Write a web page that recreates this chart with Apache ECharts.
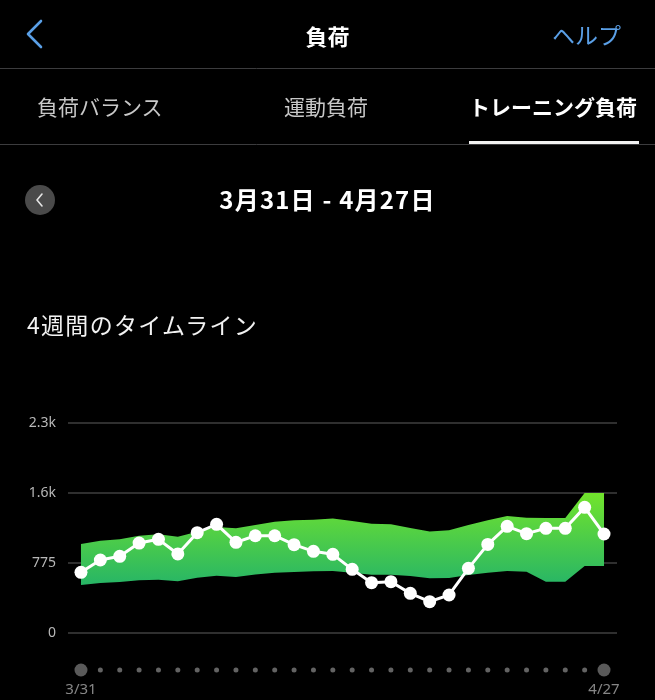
<!DOCTYPE html>
<html>
<head>
<meta charset="utf-8">
<script src="https://cdn.jsdelivr.net/npm/echarts@6/dist/echarts.min.js"></script>
<style>
  html,body{margin:0;padding:0;background:#000;width:655px;height:700px;overflow:hidden;font-family:"Noto Sans CJK JP","Noto Sans",sans-serif;}
  #chart{position:absolute;left:0;top:0;width:655px;height:700px;}
  .abs{position:absolute;white-space:nowrap;}
</style>
</head>
<body>
<div id="chart"></div>
<svg class="abs" style="left:0;top:0" width="655" height="230">
  <polyline points="41,21 28,34 41,47" fill="none" stroke="#5a9fe6" stroke-width="2.6" stroke-linecap="round" stroke-linejoin="round"/>
  <line x1="0" y1="68.5" x2="655" y2="68.5" stroke="#3c3c3e" stroke-width="1"/>
  <line x1="0" y1="144.5" x2="655" y2="144.5" stroke="#3c3c3e" stroke-width="1"/>
  <rect x="469" y="141" width="170" height="3" fill="#f2f2f2"/>
  <circle cx="40" cy="200" r="15" fill="#4a4a4a"/>
  <polyline points="42,194 37,200 42,206" fill="none" stroke="#e6e6e6" stroke-width="1.6" stroke-linecap="round" stroke-linejoin="round"/>
</svg>
<div class="abs" style="left:0;width:655px;top:18px;text-align:center;color:#fff;font-size:22px;font-weight:bold;line-height:34px;">負荷</div>
<div class="abs" style="left:552px;top:17px;color:#5a9fe6;font-size:23px;line-height:34px;">ヘルプ</div>
<div class="abs" style="left:37px;top:91px;color:#c8c8c8;font-size:21px;line-height:30px;">負荷バランス</div>
<div class="abs" style="left:284px;top:91px;color:#c8c8c8;font-size:21px;line-height:30px;">運動負荷</div>
<div class="abs" style="left:469px;top:91px;color:#fff;font-size:21px;font-weight:bold;line-height:30px;">トレーニング負荷</div>
<div class="abs" style="left:0;width:655px;top:183px;text-align:center;color:#fff;font-size:24px;font-weight:bold;line-height:32px;letter-spacing:1.2px;">3月31日 - 4月27日</div>
<div class="abs" style="left:27px;top:308px;color:#f2f2f2;font-size:23px;line-height:32px;letter-spacing:1.3px;">4週間のタイムライン</div>
<script>
const dates = ["3/31","4/1","4/2","4/3","4/4","4/5","4/6","4/7","4/8","4/9","4/10","4/11","4/12","4/13","4/14","4/15","4/16","4/17","4/18","4/19","4/20","4/21","4/22","4/23","4/24","4/25","4/26","4/27"];
const trainingLoad = [672,808,849,996,1037,875,1111,1203,1004,1077,1077,978,904,871,705,557,568,439,347,421,716,981,1181,1100,1159,1159,1391,1096];
const rangeUpper = [985,1022,1037,1077,1092,1066,1122,1173,1159,1196,1232,1247,1255,1269,1240,1210,1203,1162,1125,1137,1196,1247,1295,1277,1273,1273,1550,1550];
const rangeLower = [531,554,565,583,590,572,613,635,620,649,668,675,683,686,668,646,646,631,605,609,642,668,686,679,568,568,742,742];
const yTicks = [0, 775, 1550, 2325];
const yTickLabels = ["0", "775", "1.6k", "2.3k"];

const chart = echarts.init(document.getElementById('chart'), null, {renderer:'canvas'});
const n = dates.length;
const xMin = -0.67, xMax = n - 1 + 0.67;

function renderBand(params, api) {
  if (params.dataIndex !== 0) return null;
  const pts = [];
  for (let i = 0; i < n; i++) pts.push(api.coord([i, rangeUpper[i]]));
  for (let i = n - 1; i >= 0; i--) pts.push(api.coord([i, rangeLower[i]]));
  return {
    type: 'polygon',
    shape: {points: pts},
    style: {
      fill: new echarts.graphic.LinearGradient(0,0,0,1,[
        {offset:0, color:'#72e42c'},
        {offset:1, color:'#27b566'}
      ])
    }
  };
}

chart.setOption({
  backgroundColor: 'transparent',
  animation: false,
  grid: [
    {left: 68, right: 38, top: 423, bottom: 67},
    {left: 68, right: 38, top: 662, height: 16}
  ],
  xAxis: [
    {gridIndex: 0, type: 'value', min: xMin, max: xMax, show: false},
    {gridIndex: 1, type: 'value', min: xMin, max: xMax, show: false}
  ],
  yAxis: [
    {gridIndex: 0, type: 'value', min: yTicks[0], max: yTicks[yTicks.length-1], interval: yTicks[1]-yTicks[0],
     axisLine:{show:false}, axisTick:{show:false},
     splitLine:{lineStyle:{color:'#3f3f3f', width:1.5}},
     axisLabel:{color:'#b8b8b8', fontSize:14, margin:12, fontFamily:'Noto Sans, sans-serif',
       formatter: v => { const i = yTicks.indexOf(v); return i >= 0 ? yTickLabels[i] : ''; }}},
    {gridIndex: 1, type: 'value', min: -1, max: 1, show: false}
  ],
  series: [
    {
      type: 'custom', xAxisIndex: 0, yAxisIndex: 0, z: 1, silent: true,
      data: dates.map((d,i)=>[i, rangeLower[i], rangeUpper[i]]),
      encode: {x: 0, y: [1, 2]},
      renderItem: renderBand
    },
    {
      type: 'line', xAxisIndex: 0, yAxisIndex: 0, z:5,
      data: trainingLoad.map((v,i)=>[i,v]),
      symbol: 'circle', symbolSize: 13,
      lineStyle: {color:'#ffffff', width:3},
      itemStyle: {color:'#ffffff'}
    },
    {
      type: 'scatter', xAxisIndex: 1, yAxisIndex: 1,
      data: dates.map((d,i)=>({value:[i,0], name:d,
        symbolSize: (i===0 || i===n-1) ? 13 : 5,
        itemStyle:{color: (i===0 || i===n-1) ? '#707070' : '#7c7c7c'},
        label:{show: (i===0 || i===n-1)}})),
      label: {position:'bottom', distance: 6, color:'#a8a8a8', fontSize:15, fontFamily:'Noto Sans, sans-serif',
        formatter: p => p.name},
      silent: true
    }
  ]
});
</script>
</body>
</html>
